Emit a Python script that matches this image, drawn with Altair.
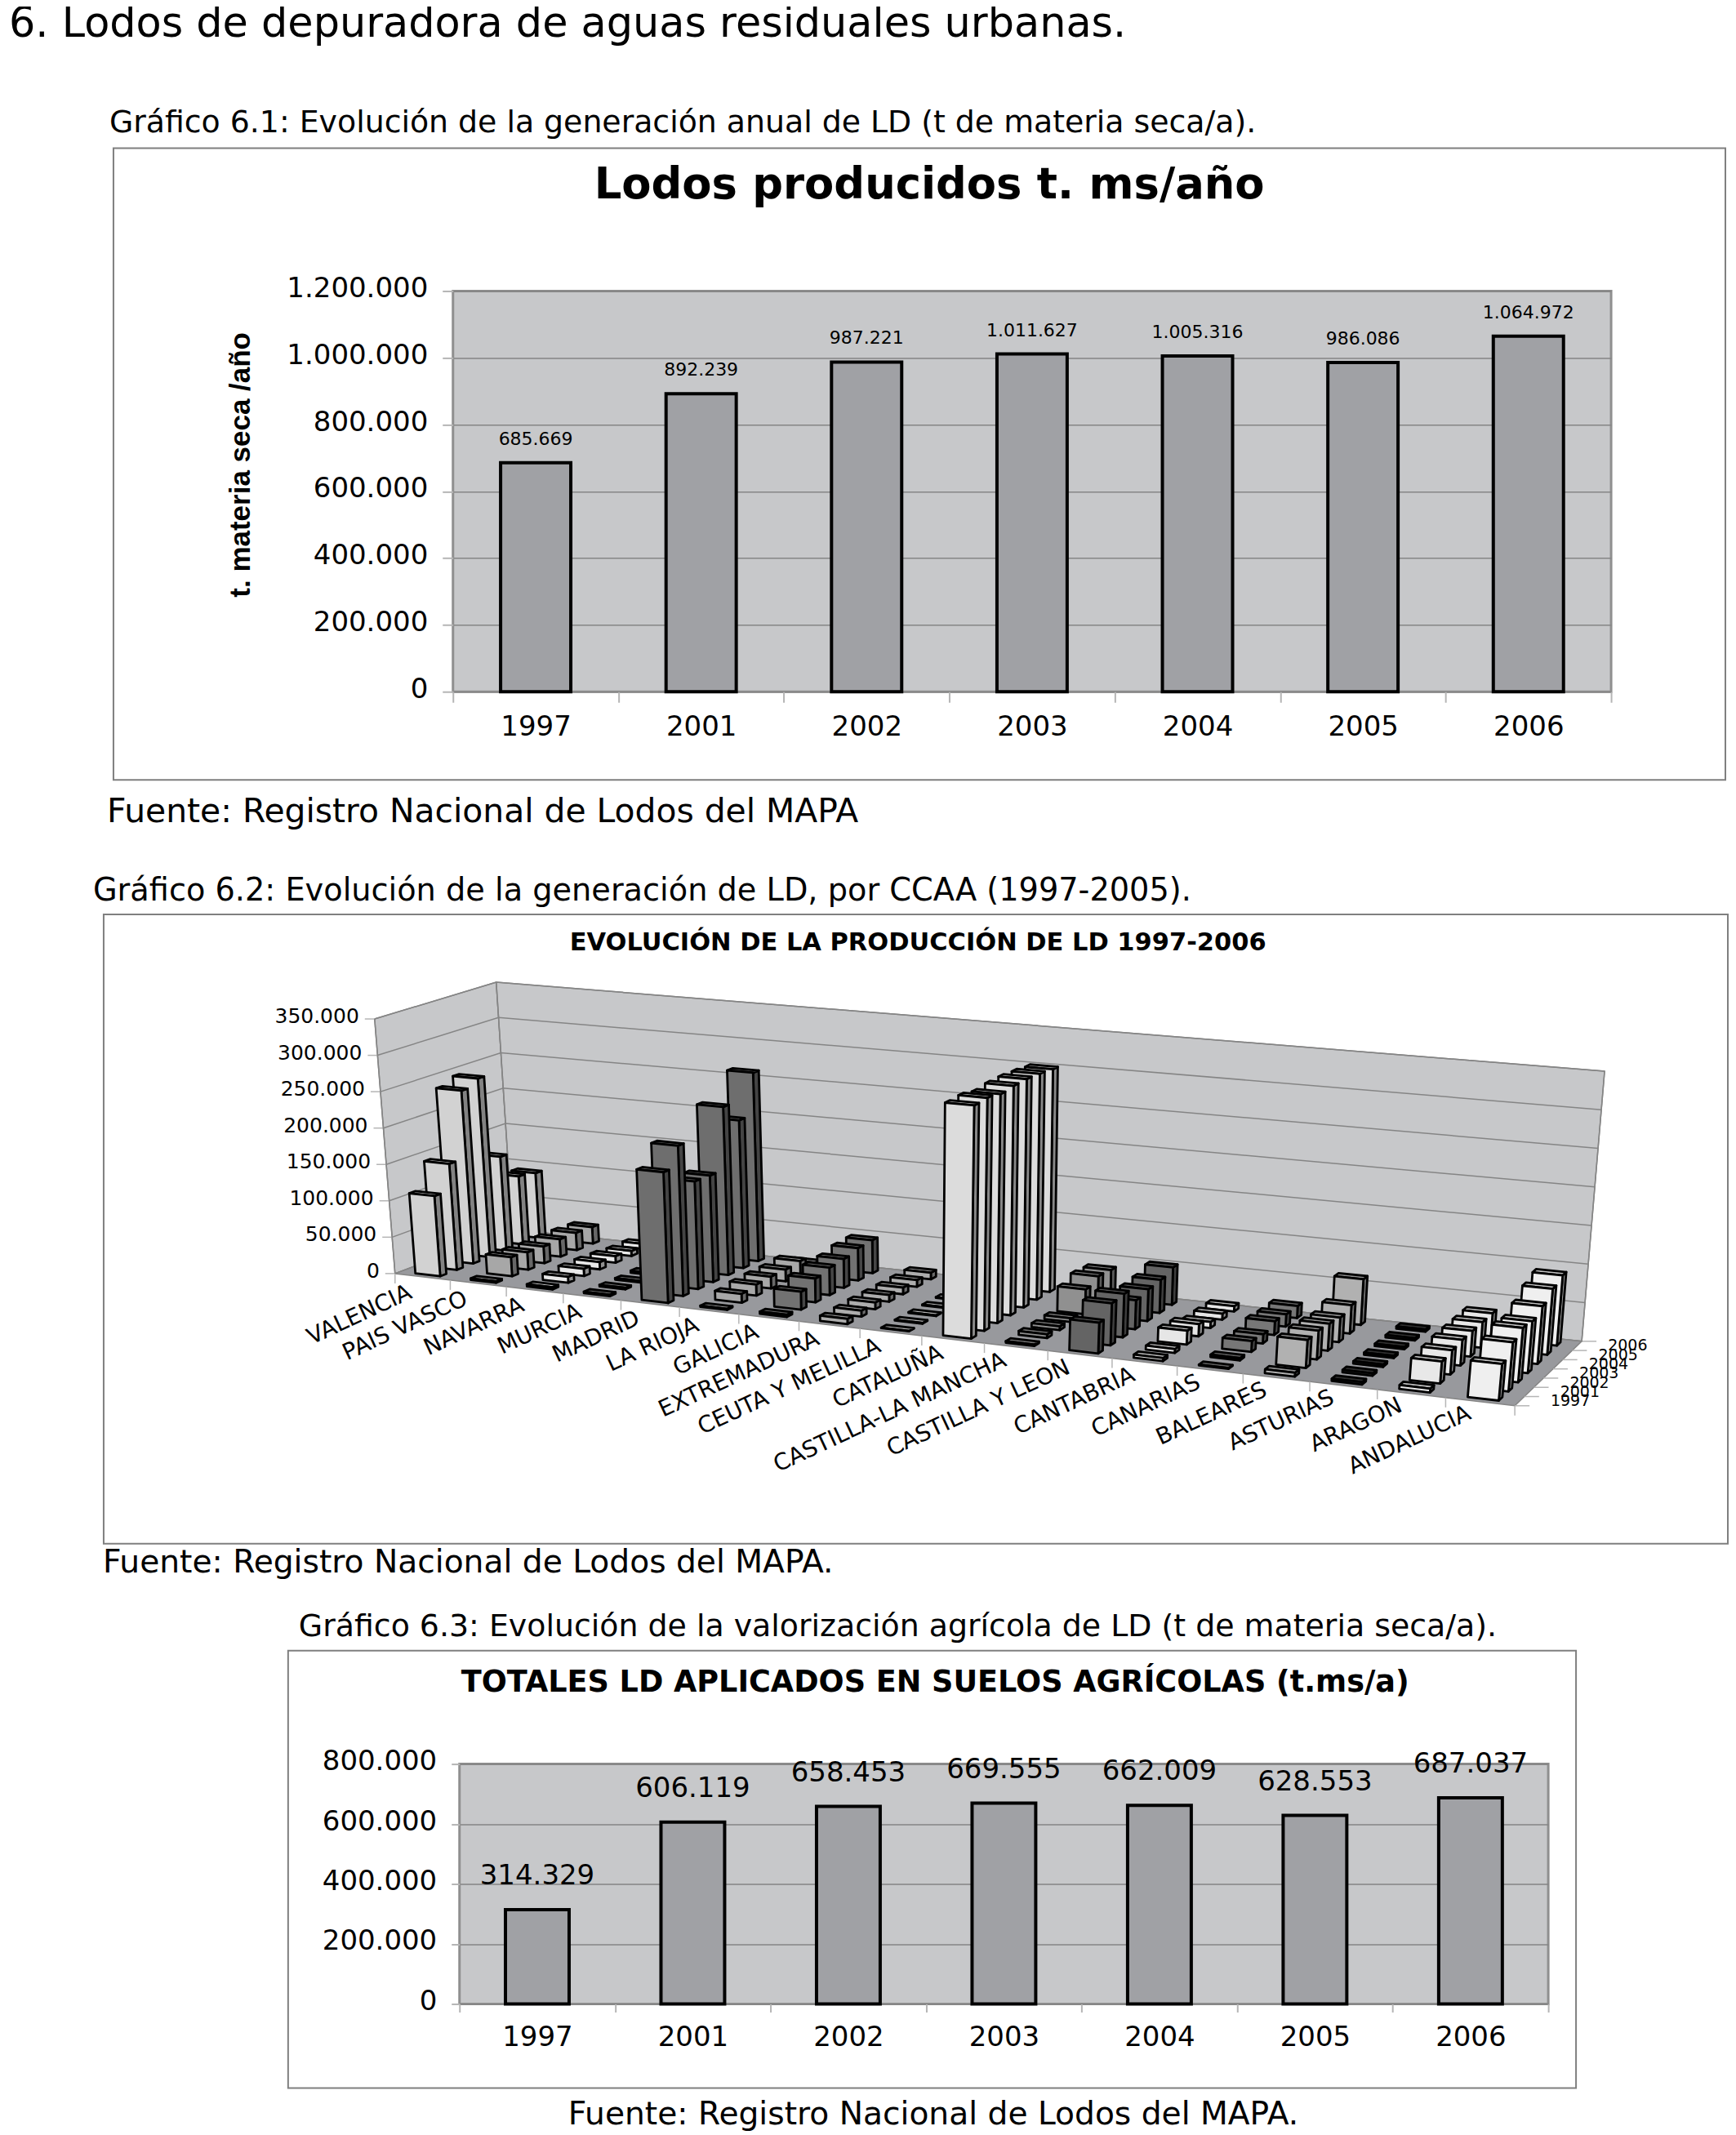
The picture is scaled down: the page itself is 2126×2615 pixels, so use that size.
import altair as alt
import pandas as pd

YEARS = ["1997", "2001", "2002", "2003", "2004", "2005", "2006"]
PRODUCED = [685669, 892239, 987221, 1011627, 1005316, 986086, 1064972]
APPLIED = [314329, 606119, 658453, 669555, 662009, 628553, 687037]

REGIONS = ["VALENCIA", "PAIS VASCO", "NAVARRA", "MURCIA", "MADRID", "LA RIOJA", "GALICIA",
           "EXTREMADURA", "CEUTA Y MELILLA", "CATALUÑA", "CASTILLA-LA MANCHA", "CASTILLA Y LEON",
           "CANTABRIA", "CANARIAS", "BALEARES", "ASTURIAS", "ARAGON", "ANDALUCIA"]
VALENCIA = [110000, 146000, 239000, 248000, 131000, 95000, 91000]
PAIS_VASCO = [2000, 26000, 24000, 23000, 24000, 24000, 23000]
NAVARRA = [3000, 8000, 10000, 10000, 9000, 7000, 7000]
MURCIA = [2000, 2000, 2000, 3000, 3000, 3000, 3000]
MADRID = [176000, 203000, 146000, 145000, 230000, 203000, 260000]
LA_RIOJA = [1500, 12000, 15000, 16000, 16000, 18000, 6000]
GALICIA = [3000, 24000, 32000, 37000, 39000, 44000, 45000]
EXTREMADURA = [7000, 8000, 9000, 9000, 9000, 9000, 9000]
CEUTA = [500, 1000, 1000, 1000, 1000, 1000, 1000]
CATALUNA = [306000, 307000, 303000, 305000, 305000, 303000, 300000]
CLM = [2000, 5000, 5000, 5000, 33000, 40000, 38000]
CYL = [40000, 55000, 57000, 38000, 42000, 44000, 50000]
CANTABRIA = [4000, 5000, 18000, 16000, 8000, 8000, 7000]
CANARIAS = [1000, 3000, 14000, 12000, 18000, 16000, 16000]
BALEARES = [5000, 36000, 37000, 35000, 32000, 37000, 60000]
ASTURIAS = [3000, 3000, 3000, 3000, 3000, 3000, 3000]
ARAGON = [5000, 28000, 31000, 33000, 33000, 33000, 33000]
ANDALUCIA = [46000, 62000, 69000, 66000, 74000, 85000, 91000]
REGION_VALUES = [VALENCIA, PAIS_VASCO, NAVARRA, MURCIA, MADRID, LA_RIOJA, GALICIA, EXTREMADURA, CEUTA,
                 CATALUNA, CLM, CYL, CANTABRIA, CANARIAS, BALEARES, ASTURIAS, ARAGON, ANDALUCIA]
REGION_GREYS = [210, 167, 233, 127, 110, 168, 114, 173, 216, 220, 144, 100, 230, 119, 177, 58, 232, 239]
HEIGHT_TICKS = [0, 50000, 100000, 150000, 200000, 250000, 300000, 350000]

FONT = "DejaVu Sans"
WALL = "#C7C8CA"
BAR = "#A0A1A5"
FLOOR = "#98999D"
GRID = "#858585"
FRAME = "#7f7f7f"
LIGHT_TICK = "#b5b5b5"

one = pd.DataFrame({"a": [0]})


def note(text, x, y, size, weight="normal", align="left", font=FONT):
    return alt.Chart(one).mark_text(text=text, font=font, fontSize=size, fontWeight=weight, align=align,
                                    baseline="middle", color="#000").encode(x=alt.value(x), y=alt.value(y))


def frame(x0, y0, x1, y1):
    return alt.Chart(one).mark_rect(filled=False, stroke=FRAME, strokeWidth=2).encode(
        x=alt.value(x0), x2=alt.value(x1), y=alt.value(y0), y2=alt.value(y1))


def dotted(v):
    return f"{v:,}".replace(",", ".")


LABEL_EXPR = "replace(format(datum.value, ','), /,/g, '.')"


def bar_panel(values, top, w, h, bar_w, label_size, dy, step, tick, lab_pad, x_lab_gap, y_title=None, extras=()):
    df = pd.DataFrame({"year": YEARS, "v": values, "lab": [dotted(v) for v in values]})
    axis_kw = dict(values=list(range(0, top + 1, step)), labelExpr=LABEL_EXPR, labelFont=FONT, labelFontSize=34,
                   labelColor="#000", tickColor=LIGHT_TICK, tickSize=tick, tickWidth=2, gridColor=GRID,
                   gridWidth=1.5, domain=False, labelPadding=lab_pad, labelOffset=-3)
    if y_title:
        axis_kw.update(title=y_title, titleFont="Liberation Sans", titleFontSize=35, titleFontWeight="bold",
                       titleColor="#000", titleX=-242, titleY=h / 2 - 33)
    else:
        axis_kw.update(title=None)
    y = alt.Y("v:Q", scale=alt.Scale(domain=[0, top], nice=False), axis=alt.Axis(**axis_kw))
    x = alt.X("year:N", sort=YEARS, scale=alt.Scale(paddingInner=0, paddingOuter=0),
              axis=alt.Axis(title=None, labelAngle=0, labelFont=FONT, labelFontSize=34, labelColor="#000",
                            tickColor=LIGHT_TICK, tickSize=tick, tickWidth=2, tickBand="extent", domain=False,
                            labelBaseline="middle", labelPadding=x_lab_gap - tick, grid=False))
    base = alt.Chart(df).encode(x=x, y=y)
    bars = base.mark_bar(size=bar_w, fill=BAR, stroke="#000", strokeWidth=4)
    labs = base.mark_text(font=FONT, fontSize=label_size, baseline="middle", dy=dy, color="#000").encode(text="lab:N")
    return alt.layer(bars, labs, *extras).properties(
        width=w, height=h, view=alt.ViewConfig(fill=WALL, stroke="#8f8f8f", strokeWidth=3))


def spacer(w, h):
    return alt.Chart(one).mark_point(opacity=0, size=1).encode(x=alt.value(0), y=alt.value(0)).properties(
        width=w, height=h, view=alt.ViewConfig(stroke=None))


# ---------- panel 1 ----------
P1X, P1Y = 554, 353
def n1(text, ix, iy, *a, **k):
    return note(text, ix - P1X, iy - P1Y, *a, **k)

panel1 = bar_panel(PRODUCED, 1200000, 1419, 491, 86, 22, -29, 200000, 13, 18, 43,
                   y_title="t. materia seca /año",
                   extras=[frame(138 - P1X, 178 - P1Y, 2113 - P1X, 952 - P1Y),
                           n1("6. Lodos de depuradora de aguas residuales urbanas.", 10, 26, 50.9),
                           n1("Gráfico 6.1: Evolución de la generación anual de LD (t de materia seca/a).", 133, 147, 37.85),
                           n1("Lodos producidos t. ms/año", 727, 223, 52.8, weight="bold"),
                           n1("Fuente: Registro Nacional de Lodos del MAPA", 130, 992, 40.85)])

# ---------- panel 3 ----------
P3X, P3Y = 562, 2158
def n3(text, ix, iy, *a, **k):
    return note(text, ix - P3X, iy - P3Y, *a, **k)

panel3 = bar_panel(APPLIED, 800000, 1334, 294, 78, 34, -41, 200000, 10, 18, 41,
                   extras=[frame(352 - P3X, 2019 - P3Y, 1930 - P3X, 2555 - P3Y),
                           n3("Gráfico 6.3: Evolución de la valorización agrícola de LD (t de materia seca/a).", 365, 1990, 37.9),
                           n3("TOTALES LD APLICADOS EN SUELOS AGRÍCOLAS (t.ms/a)", 564, 2058, 36.6, weight="bold"),
                           n3("Fuente: Registro Nacional de Lodos del MAPA.", 695, 2588, 39.2)])

# ---------- panel 2: oblique 3-D projection of the values ----------
FL, FR, BR, BL = (483, 1557), (1855, 1719), (1937, 1640), (627, 1503)
UP_FL, UP_FR, UP_BR, UP_BL = (-25, -312), (32, -342), (28, -331), (-20, -303)
TOP = 350000.0


def bilinear(a, b, c, d, u, v):
    return tuple((1 - v) * ((1 - u) * a[i] + u * b[i]) + v * ((1 - u) * d[i] + u * c[i]) for i in (0, 1))


def P(u, v, value=0.0):
    uw = 0.8816 * u + 0.1184 * u * u
    fx, fy = bilinear(FL, FR, BR, BL, uw, v)
    ux, uy = bilinear(UP_FL, UP_FR, UP_BR, UP_BL, uw, v)
    return fx + value / TOP * ux, fy + value / TOP * uy


def grey(g, k=1.0):
    g = int(max(0, min(255, g * k)))
    return f"#{g:02x}{g:02x}{g:02x}"


polys, segs = [], []


def add_poly(rows, pts, fill):
    pid = len(rows)
    for o, (x, y) in enumerate(pts):
        rows.append({"id": f"p{pid}", "o": o, "x": x, "y": y, "fill": fill})


n_r, n_y = len(REGIONS), len(YEARS)
walls = []
add_poly(walls, [P(0, 0, TOP), P(0, 1, TOP), P(0, 1), P(0, 0)], WALL)
add_poly(walls, [P(0, 1, TOP), P(1, 1, TOP), P(1, 1), P(0, 1)], WALL)
add_poly(walls, [P(0, 0), P(1, 0), P(1, 1), P(0, 1)], FLOOR)

for j in range(n_y - 1, -1, -1):
    for i in range(n_r):
        u0, u1 = (i + 0.275) / n_r, (i + 0.725) / n_r
        v0, v1 = (j + 0.315) / n_y, (j + 0.685) / n_y
        val = REGION_VALUES[i][j]
        g = REGION_GREYS[i]
        add_poly(polys, [P(u1, v0), P(u1, v1), P(u1, v1, val), P(u1, v0, val)], grey(g, 0.62))
        add_poly(polys, [P(u0, v0, val), P(u1, v0, val), P(u1, v1, val), P(u0, v1, val)], grey(g, 0.82))
        add_poly(polys, [P(u0, v0), P(u1, v0), P(u1, v0, val), P(u0, v0, val)], grey(g))


def add_seg(pts, color):
    sid = len(segs)
    for o, (x, y) in enumerate(pts):
        segs.append({"id": f"s{sid}", "o": o, "x": x, "y": y, "c": color})


for t in HEIGHT_TICKS:
    add_seg([P(0, 0, t), P(0, 1, t), P(1, 1, t)], GRID)
    x, y = P(0, 0, t)
    add_seg([(x - 12, y), (x, y)], LIGHT_TICK)
for i in range(n_r + 1):
    x, y = P(i / n_r, 0)
    add_seg([(x, y), (x, y + 12)], LIGHT_TICK)
for j in range(n_y + 1):
    x, y = P(1, j / n_y)
    add_seg([(x, y), (x + 18, y)], LIGHT_TICK)
add_seg([P(0, 0, TOP), P(0, 0)], GRID)
add_seg([P(0, 1, TOP), P(0, 1)], GRID)
add_seg([P(1, 1, TOP), P(1, 1)], GRID)

P2X0, P2X1, P2Y0, P2Y1 = 8, 2118, 1105, 1905
PAGE_W = P2X1 - P2X0
sx = alt.Scale(domain=[P2X0, P2X1], range=[0, PAGE_W], nice=False, zero=False)
sy = alt.Scale(domain=[P2Y0, P2Y1], range=[0, P2Y1 - P2Y0], nice=False, zero=False)
X = alt.X("x:Q", scale=sx, axis=None)
Y = alt.Y("y:Q", scale=sy, axis=None)


def poly_layer(rows, **mark):
    return alt.Chart(pd.DataFrame(rows)).mark_line(interpolate="linear-closed", **mark).encode(
        x=X, y=Y, order=alt.Order("o:Q"), detail="id:N", fill=alt.Fill("fill:N", scale=None))


wall_layer = poly_layer(walls, stroke=GRID, strokeWidth=1.5)
seg_layer = alt.Chart(pd.DataFrame(segs)).mark_line(strokeWidth=1.5).encode(
    x=X, y=Y, order=alt.Order("o:Q"), detail="id:N", stroke=alt.Stroke("c:N", scale=None))
bar_layer = poly_layer(polys, stroke="#000", strokeWidth=2.8, strokeJoin="round")

y_labs = pd.DataFrame([{"x": P(0, 0, t)[0] - 19, "y": P(0, 0, t)[1] - 3, "t": dotted(t)} for t in HEIGHT_TICKS])
y_text = alt.Chart(y_labs).mark_text(font=FONT, fontSize=25, align="right", baseline="middle", color="#000").encode(
    x=X, y=Y, text="t:N")
c_labs = pd.DataFrame([{"x": P(i / n_r, 0)[0] + 19 + 11 * i / n_r, "y": P(i / n_r, 0)[1] + 22 - 4 * i / n_r, "t": r}
                       for i, r in enumerate(REGIONS)])
c_text = alt.Chart(c_labs).mark_text(font=FONT, fontSize=28, align="right", baseline="middle", angle=335,
                                     color="#000").encode(x=X, y=Y, text="t:N")
yr_labs = pd.DataFrame([{"x": P(1, (j + 0.5) / n_y)[0] + 38, "y": P(1, (j + 0.5) / n_y)[1], "t": yr}
                        for j, yr in enumerate(YEARS)])
yr_text = alt.Chart(yr_labs).mark_text(font=FONT, fontSize=19, align="left", baseline="middle", color="#000").encode(
    x=X, y=Y, text="t:N")


def n2(text, ix, iy, *a, **k):
    return note(text, ix - P2X0, iy - P2Y0, *a, **k)


panel2 = alt.layer(frame(126 - P2X0, 1117 - P2Y0, 2116 - P2X0, 1888 - P2Y0), wall_layer, seg_layer, bar_layer,
                   y_text, c_text, yr_text,
                   n2("Gráfico 6.2: Evolución de la generación de LD, por CCAA (1997-2005).", 113, 1089, 38.3),
                   n2("EVOLUCIÓN DE LA PRODUCCIÓN DE LD 1997-2006", 697, 1152, 30.5, weight="bold"),
                   n2("Fuente: Registro Nacional de Lodos del MAPA.", 125, 1911, 39.2)).properties(
    width=PAGE_W, height=P2Y1 - P2Y0, view=alt.ViewConfig(stroke=None))

row1 = alt.hconcat(spacer(P1X - 8, 491), panel1, spacing=0, bounds="flush")
row3 = alt.hconcat(spacer(P3X - 8, 294), panel3, spacing=0, bounds="flush")

# a nested hconcat adds no height of its own to a flush vconcat, so the gap below it spans its plot height too
chart = alt.vconcat(spacer(PAGE_W, P1Y - 8), row1, spacer(PAGE_W, P2Y0 - P1Y), panel2,
                    spacer(PAGE_W, P3Y - P2Y1), row3, spacing=0, bounds="flush").properties(
    padding={"left": 0, "top": -7, "right": 0, "bottom": 0}, background="white").configure_view(strokeWidth=0)

chart.save("out.html", embed_options={"renderer": "svg", "actions": False})
